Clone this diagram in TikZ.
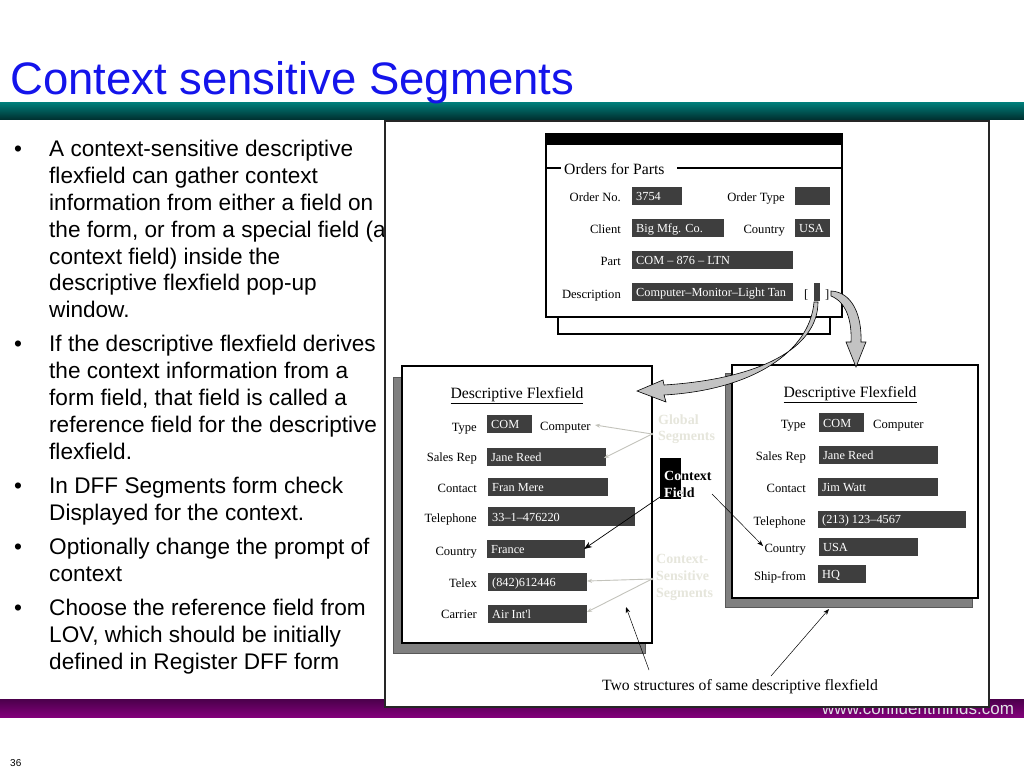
\documentclass[tikz,border=0pt]{standalone}
\usepackage{fontspec}
\setmainfont{Liberation Sans}
\newfontfamily\tms{Liberation Serif}
\usetikzlibrary{arrows.meta}
\definecolor{ttl}{RGB}{20,20,235}
\definecolor{fgray}{RGB}{62,62,62}
\definecolor{shad}{RGB}{128,128,128}
\definecolor{pale}{RGB}{230,230,220}
\definecolor{arrg}{RGB}{195,195,195}
\definecolor{tealA}{RGB}{0,128,124}
\definecolor{tealB}{RGB}{0,50,50}
\definecolor{purA}{RGB}{75,0,75}
\definecolor{purB}{RGB}{130,0,122}
\definecolor{webc}{RGB}{225,225,230}
\tikzset{
  fldbox/.style={fill=fgray, draw=none, inner sep=0pt},
  fldtxt/.style={text=white, inner sep=0pt, font=\tms\fontsize{12.3}{14}\selectfont},
  lbl/.style={inner sep=0pt, anchor=base east, font=\tms\fontsize{12.6}{14}\selectfont},
  plain/.style={inner sep=0pt, anchor=base west, font=\tms\fontsize{12.6}{14}\selectfont},
  fftitle/.style={inner sep=0pt, anchor=base, font=\tms\fontsize{15.7}{18}\selectfont},
  bul/.style={inner sep=0pt, anchor=base west, font=\fontsize{22.6}{27}\selectfont},
  side/.style={inner sep=0pt, anchor=base west, text=pale, font=\tms\bfseries\fontsize{14}{16}\selectfont},
  ctx/.style={inner sep=0pt, anchor=base west, font=\tms\bfseries\fontsize{14}{16}\selectfont},
  palearr/.style={draw=pale!85!black, line width=0.9pt, -{Stealth[length=5pt,width=4pt]}},
  blkarr/.style={draw=black, line width=0.7pt, -{Stealth[length=8pt,width=6pt]}},
  thinarr/.style={draw=black, line width=0.5pt, -{Stealth[length=6pt,width=4.5pt]}},
  bigarr/.style={fill=arrg, draw=black, line width=0.6pt}
}
\newcommand\mkfld[6]{%
  \node[fldbox, anchor=north west, minimum width={(#4-#2)*1pt}, minimum height={(#5-#3)*1pt}] (#1) at (#2,#3) {};
  \node[fldtxt, anchor=base west] (#1t) at ([shift={(4pt,4.8pt)}]#1.south west) {#6};
}
\begin{document}
\begin{tikzpicture}[x=1pt,y=-1pt]
\useasboundingbox (0,0) rectangle (1024,768);
\fill[white] (0,0) rectangle (1024,768);
% header
\shade[top color=tealA, bottom color=tealB] (0,102) rectangle (1024,119);
\node[anchor=base west, inner sep=0pt, text=ttl, font=\fontsize{45.5}{54}\selectfont] (title) at (10,94) {Context sensitive Segments};
% bullets
\foreach \n/\y in {1/156,2/351,3/493,4/554,5/615}
  \node[bul] (dot\n) at (14,\y) {•};
\foreach \n/\y/\t in {
  1/156/{A context-sensitive descriptive},
  2/183/{flexfield can gather context},
  3/210/{information from either a field on},
  4/237/{the form, or from a special field (a},
  5/264/{context field) inside the},
  6/290/{descriptive flexfield pop-up},
  7/317/{window.},
  8/351/{If the descriptive flexfield derives},
  9/378/{the context information from a},
  10/405/{form field, that field is called a},
  11/432/{reference field for the descriptive},
  12/459/{flexfield.},
  13/493/{In DFF Segments form check},
  14/520/{Displayed for the context.},
  15/554/{Optionally change the prompt of},
  16/581/{context},
  17/615/{Choose the reference field from},
  18/642/{LOV, which should be initially},
  19/669/{defined in Register DFF form}}
  \node[bul] (line\n) at (49,\y) {\t};
% footer
\shade[top color=purA, bottom color=purB] (0,699) rectangle (1024,717);
\node[anchor=base west, inner sep=0pt, text=webc, font=\fontsize{17}{20}\selectfont] (web) at (822,714) {www.confluentminds.com};
\node[anchor=base west, inner sep=0pt, font=\fontsize{10}{12}\selectfont] (pg) at (10,766) {36};
% picture frame
\draw[line width=1.5pt, draw=black!85, fill=white] (385,121) rectangle (989,707);
% ---- top form ----
\draw[line width=2pt, fill=white] (558,300) rectangle (830,334);
\draw[line width=1.8pt, fill=white] (546,134) rectangle (842,317);
\fill (546,134) rectangle (842,145);
\draw[line width=1.5pt] (546,168) -- (561,168);
\draw[line width=1.5pt] (677,168) -- (842,168);
\node[inner sep=0pt, anchor=base west, font=\tms\fontsize{15.7}{18}\selectfont] (ofp) at (564,174) {Orders for Parts};
\node[lbl] (lordno) at (621,201) {Order No.};
\node[lbl] (lordty) at (785,201) {Order Type};
\node[lbl] (lclient) at (621,233) {Client};
\node[lbl] (lctry) at (785,233) {Country};
\node[lbl] (lpart) at (621,265) {Part};
\node[lbl] (ldesc) at (621,298) {Description};
\mkfld{fno}{632}{187}{682}{205}{3754}
\mkfld{fty}{795}{187}{830}{205}{}
\mkfld{fcl}{632}{219}{724}{237}{Big Mfg. Co.}
\mkfld{fct}{795}{219}{830}{237}{USA}
\mkfld{fpt}{632}{251}{793}{269}{COM – 876 – LTN}
\mkfld{fds}{632}{283}{793}{301}{Computer–Monitor–Light Tan}
\node[plain] (lbr) at (804,298) {[};
\node[fldbox, anchor=north west, minimum width=6pt, minimum height=18pt] (refbox) at (814,283) {};
\node[plain] (rbr) at (825,298) {]};
% ---- left flexfield ----
\draw[fill=shad, draw=black!65, line width=1pt] (393,377) rectangle (645,653);
\draw[fill=white, line width=2.5pt] (402,366) rectangle (652,643);
\node[fftitle] (lttl) at (517,398) {\underline{Descriptive Flexfield}};
\node[lbl] (lt1) at (477,431) {Type};
\node[lbl] (lt2) at (477,461) {Sales Rep};
\node[lbl] (lt3) at (477,492) {Contact};
\node[lbl] (lt4) at (477,522) {Telephone};
\node[lbl] (lt5) at (477,555) {Country};
\node[lbl] (lt6) at (477,587) {Telex};
\node[lbl] (lt7) at (477,618) {Carrier};
\mkfld{lf1}{487}{415}{532}{433}{COM}
\node[plain] (lcomp) at (540,430) {Computer};
\mkfld{lf2}{487}{448}{606}{466}{Jane Reed}
\mkfld{lf3}{488}{478}{608}{496}{Fran Mere}
\mkfld{lf4}{488}{507}{635}{526}{33–1–476220}
\mkfld{lf5}{487}{540}{585}{558}{France}
\mkfld{lf6}{488}{573}{587}{591}{(842)612446}
\mkfld{lf7}{488}{605}{587}{623}{Air Int'l}
% ---- right flexfield ----
\draw[fill=shad, draw=black!65, line width=1pt] (725,373) rectangle (972,607);
\draw[fill=white, line width=2.5pt] (732,365) rectangle (978,598);
\node[fftitle] (rttl) at (850,397) {\underline{Descriptive Flexfield}};
\node[lbl] (rt1) at (806,428) {Type};
\node[lbl] (rt2) at (806,460) {Sales Rep};
\node[lbl] (rt3) at (806,492) {Contact};
\node[lbl] (rt4) at (806,525) {Telephone};
\node[lbl] (rt5) at (806,552) {Country};
\node[lbl] (rt6) at (806,580) {Ship-from};
\mkfld{rf1}{819}{413}{864}{432}{COM}
\node[plain] (rcomp) at (873,428) {Computer};
\mkfld{rf2}{819}{446}{938}{464}{Jane Reed}
\mkfld{rf3}{818}{478}{938}{496}{Jim Watt}
\mkfld{rf4}{818}{511}{966}{528}{(213) 123–4567}
\mkfld{rf5}{819}{538}{918}{556}{USA}
\mkfld{rf6}{818}{565}{866}{583}{HQ}
% ---- middle labels ----
\node[side] (glob1) at (658,424) {Global};
\node[side] (glob2) at (658,440) {Segments};
\node[side] (cs1) at (656,563) {Context-};
\node[side] (cs2) at (656,580) {Sensitive};
\node[side] (cs3) at (656,597) {Segments};
\fill[black] (660,458) rectangle (681,499);
\node[ctx] (cf1) at (664,480) {Context};
\node[ctx] (cf2) at (664,497) {Field};
\begin{scope}
\clip (660,458) rectangle (681,499);
\node[ctx, text=white] (cf1w) at (664,480) {Context};
\node[ctx, text=white] (cf2w) at (664,497) {Field};
\end{scope}
% pale connectors
\coordinate (gj) at (652,434);
\coordinate (gcomp) at (595,425);
\coordinate (gjane) at (604,458);
\coordinate (cj) at (652,579);
\coordinate (ctelex) at (587,581);
\coordinate (ccarr) at (587,612);
\fill[pale!80!black] (gj) circle (1.3);
\fill[pale!80!black] (cj) circle (1.3);
\draw[palearr] (gj) -- (gcomp);
\draw[palearr] (gj) -- (gjane);
\draw[palearr] (cj) -- (ctelex);
\draw[palearr] (cj) -- (ccarr);
% black connectors
\coordinate (cfs) at (660,497);
\coordinate (cfe) at (584,549);
\draw[blkarr] (cfs) -- (cfe);
\coordinate (cgs) at (712,494);
\coordinate (cge) at (763,546);
\draw[thinarr] (cgs) -- (cge);
% caption
\node[fftitle] (cap) at (740,690) {Two structures of same descriptive flexfield};
\coordinate (b1s) at (649,670);
\coordinate (b1e) at (626,607);
\coordinate (b2s) at (771,676);
\coordinate (b2e) at (829,609);
\draw[thinarr] (b1s) -- (b1e);
\draw[thinarr] (b2s) -- (b2e);
% big grey arrows
\path[bigarr] (814,302) -- (818,302) .. controls (818,348) and (760,379) .. (664,385)
  -- (663,380) -- (637,391) -- (666,402) -- (664,395)
  .. controls (752,390) and (810,352) .. (814,302) -- cycle;
\path[bigarr] (831,291) .. controls (852,292) and (862,315) .. (861,342)
  -- (866,342) -- (856,367) -- (846,342) -- (851,342)
  .. controls (852,320) and (846,302) .. (831,296) -- cycle;
\end{tikzpicture}
\end{document}
